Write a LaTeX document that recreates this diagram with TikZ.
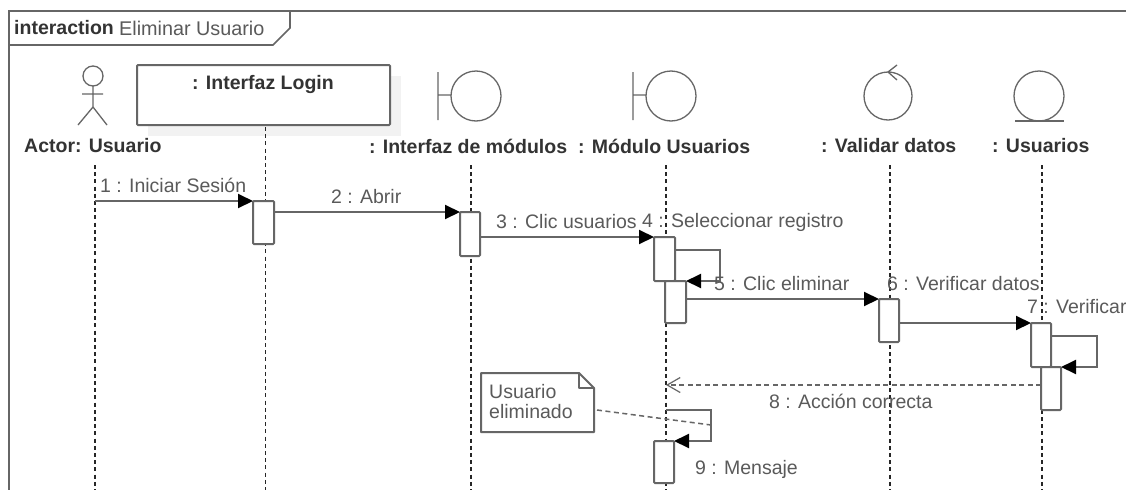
\documentclass[tikz,border=0pt]{standalone}
\usepackage{fontspec}
\setmainfont{Liberation Sans}
\usetikzlibrary{arrows.meta}
\definecolor{ln}{HTML}{666666}
\definecolor{txt}{HTML}{5A5A5A}
\definecolor{hd}{HTML}{333333}
\tikzset{
  x=1pt,y=-1pt,
  life/.style={draw=black!85,line width=1.2pt,dash pattern=on 4pt off 3.2pt},
  lane/.style={draw=ln,line width=1.4pt,line cap=round},
  acti/.style={draw=ln,line width=2pt,fill=white,rounded corners=1pt,inner sep=0pt,outer sep=0pt,anchor=north west},
  msg/.style={draw=ln,line width=2pt,-{Triangle[length=15pt,width=14pt,black]}},
  back/.style={draw=ln,line width=1.5pt,dash pattern=on 5pt off 3.5pt,-{Straight Barb[length=13pt,width=15pt,line width=1.2pt]}},
  lbl/.style={text=txt,font=\fontsize{19.5}{21}\selectfont,anchor=west,inner sep=0pt},
  head/.style={text=hd,font=\bfseries\fontsize{19.5}{21}\selectfont,anchor=west,inner sep=0pt},
}
\newcommand{\act}[5]{\node[acti,minimum width=#4pt,minimum height=#5pt] (#1) at (#2,#3) {};}
\begin{document}
\begin{tikzpicture}
\useasboundingbox (0,0) rectangle (1126,490);
\fill[white] (0,0) rectangle (1126,490);
% frame
\coordinate (fTR) at (1126,11); \coordinate (fTL) at (9,11); \coordinate (fBL) at (9,490);
\draw[draw=ln,line width=2pt] (fTR) -- (fTL) -- (fBL);
\coordinate (tagA) at (290,11); \coordinate (tagB) at (290,28); \coordinate (tagC) at (273,45); \coordinate (tagD) at (9,45);
\draw[draw=ln,line width=1.6pt] (tagA) -- (tagB) -- (tagC) -- (tagD);
\node[head,text=black!80] (title1) at (14,28) {interaction};
\node[lbl,font=\fontsize{19.8}{21}\selectfont] (title2) at (119,28) {Eliminar Usuario};
% login box + shadow
\fill[black!5] (148,76) rectangle (401,136);
\node[draw=ln,line width=2pt,fill=white,rounded corners=1pt,inner sep=0pt,outer sep=0pt,anchor=north west,minimum width=253pt,minimum height=60pt] (login) at (137,65) {};
\node[head,anchor=center] (loginT) at (263,84) {: Interfaz Login};
% actor
\draw[draw=ln,line width=1.3pt] (93,76) circle (10);
\draw[draw=ln,line width=1.3pt] (93,86) -- (93,107) (82,94) -- (103,94) (78,125) -- (93,107) -- (107,125);
% boundary
\draw[draw=ln,line width=1.3pt] (438,72) -- (438,120) (438,95) -- (451,95) (476,96) circle (25);
\draw[draw=ln,line width=1.3pt] (633,72) -- (633,120) (633,95) -- (646,95) (671,96) circle (25);
% control
\draw[draw=ln,line width=1.3pt] (888,96) circle (24) (897,65) -- (888,72) -- (897,80);
% entity
\draw[draw=ln,line width=1.3pt] (1039,96) circle (25);
\draw[draw=ln,line width=2pt] (1015,121) -- (1064,121);
% headers
\node[head] (hA) at (24,146) {Actor: Usuario};
\node[head] (hB) at (369,146) {: Interfaz de módulos};
\node[head] (hC) at (578,146) {: Módulo Usuarios};
\node[head] (hD) at (821,146) {: Validar datos};
\node[head] (hE) at (992,146) {: Usuarios};
% lifelines
\coordinate (l1t) at (95,165);  \coordinate (l1b) at (95,490);
\coordinate (l2t) at (265.5,127); \coordinate (l2b) at (265.5,490);
\coordinate (l3t) at (471,165); \coordinate (l3b) at (471,490);
\coordinate (l4t) at (666,165); \coordinate (l4b) at (666,490);
\coordinate (l5t) at (890,165); \coordinate (l5b) at (890,490);
\coordinate (l6t) at (1042,165); \coordinate (l6b) at (1042,490);
\foreach \k in {1,...,6} \draw[life] (l\k t) -- (l\k b);
% activations
\act{a1}{253}{201}{21}{43}
\act{a2}{460}{212}{20}{44}
\act{a3}{654}{237}{21}{44}
\act{a5}{665}{281}{21}{42}
\act{a6}{879}{299}{20}{43}
\act{a7}{1031}{323}{20}{44}
\act{a8}{1041}{367}{20}{43}
\act{a9}{654}{441}{20}{42}
% messages
\coordinate (m1) at (95,201);
\draw[msg] (m1) -- (a1.north west);
\draw[msg] (a1.east |- a2.north west) -- (a2.north west);
\draw[msg] (a2.east |- a3.north west) -- (a3.north west);
\coordinate (s4a) at (675,250); \coordinate (s4b) at (720,250); \coordinate (s4c) at (720,281);
\draw[msg] (s4a) -- (s4b) -- (s4c) -- (a5.north east);
\draw[msg] (a5.east |- a6.north west) -- (a6.north west);
\draw[msg] (a6.east |- a7.north west) -- (a7.north west);
\coordinate (s7a) at (1051,336); \coordinate (s7b) at (1097,336); \coordinate (s7c) at (1097,367);
\draw[msg] (s7a) -- (s7b) -- (s7c) -- (a8.north east);
\coordinate (r8) at (1041,385); \coordinate (r8e) at (666,385);
\draw[back] (r8) -- (r8e);
\coordinate (s9a) at (666,410); \coordinate (s9b) at (711,410); \coordinate (s9c) at (711,441);
\draw[msg] (s9a) -- (s9b) -- (s9c) -- (a9.north east);
% note
\coordinate (n1) at (481,373); \coordinate (n2) at (579,373); \coordinate (n3) at (594,388);
\coordinate (n4) at (594,432); \coordinate (n5) at (481,432); \coordinate (n6) at (579,388);
\draw[draw=ln,line width=2pt,fill=white,line join=round] (n1) -- (n2) -- (n3) -- (n4) -- (n5) -- cycle;
\draw[draw=ln,line width=1.6pt,line join=round] (n2) -- (n6) -- (n3);
\coordinate (nc1) at (597,410); \coordinate (nc2) at (711,425);
\draw[draw=ln,line width=1.5pt,dash pattern=on 5pt off 3.5pt] (nc1) -- (nc2);
% labels
\node[lbl] (t1) at (100,185) {1 : Iniciar Sesión};
\node[lbl] (t2) at (331,197) {2 : Abrir};
\node[lbl] (t3) at (496,222) {3 : Clic usuarios};
\node[lbl] (t4) at (642,222) {4 : Seleccionar registro};
\node[lbl] (t5) at (714,284) {5 : Clic eliminar};
\node[lbl] (t6) at (887,284) {6 : Verificar datos};
\node[lbl] (t7) at (1027,307) {7 : Verificar};
\node[lbl] (t8) at (769,401) {8 : Acción correcta};
\node[lbl] (t9) at (695,469) {9 : Mensaje};
\node[lbl] (nt1) at (489,392) {Usuario};
\node[lbl] (nt2) at (489,412) {eliminado};
\end{tikzpicture}
\end{document}
